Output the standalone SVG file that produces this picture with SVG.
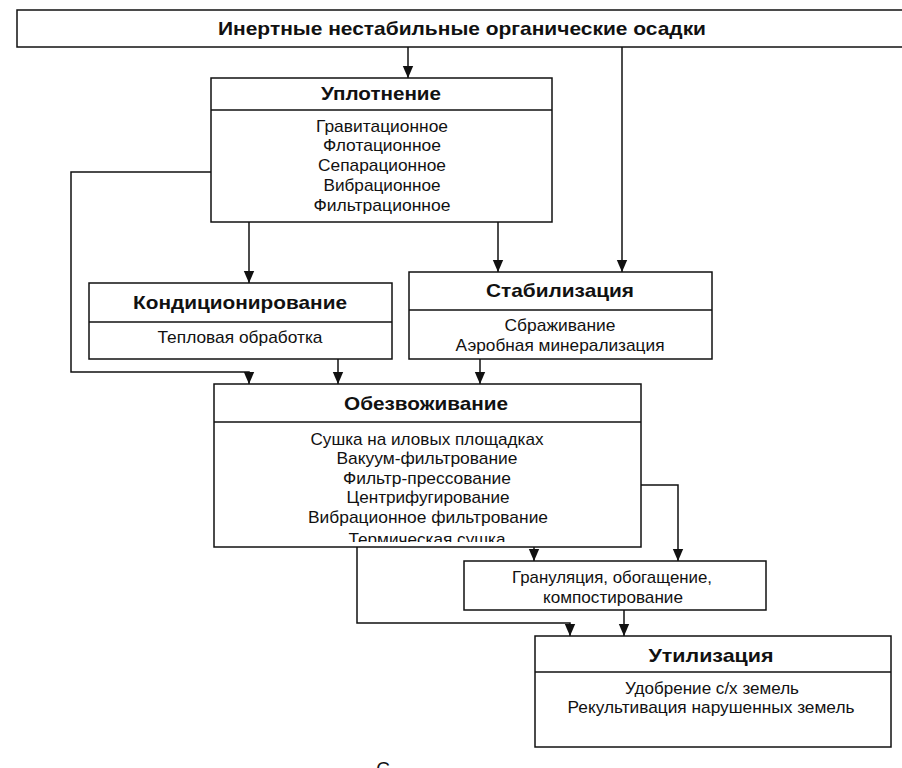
<svg xmlns="http://www.w3.org/2000/svg" width="902" height="768" viewBox="0 0 902 768">
<style>
.box{fill:#fff;stroke:#111;stroke-width:1.5}
.div{stroke:#111;stroke-width:1.3}
.t{font-family:"Liberation Sans",Arial,sans-serif;font-size:19px;font-weight:bold;fill:#111;text-anchor:middle}
.i{font-family:"Liberation Sans",Arial,sans-serif;font-size:17px;fill:#111;text-anchor:middle}
.c{fill:none;stroke:#111;stroke-width:1.5}
</style>
<defs>
<marker id="ar" viewBox="0 0 12 12" refX="12" refY="6" markerWidth="12" markerHeight="12" markerUnits="userSpaceOnUse" orient="auto">
<path d="M0,0.8 L12,6 L0,11.2 Z" fill="#111"/>
</marker>
<clipPath id="clipDew"><rect x="214" y="384" width="427" height="158"/></clipPath>
</defs>
<rect width="902" height="768" fill="#fff"/>

<g id="connectors">
<path class="c" d="M408,47 V78" marker-end="url(#ar)"/>
<path class="c" d="M622,47 V272" marker-end="url(#ar)"/>
<path class="c" d="M249,222 V283" marker-end="url(#ar)"/>
<path class="c" d="M498,222 V272" marker-end="url(#ar)"/>
<path class="c" d="M211,172 H71 V372 H249 V384" marker-end="url(#ar)"/>
<path class="c" d="M338,359 V384" marker-end="url(#ar)"/>
<path class="c" d="M480,359 V384" marker-end="url(#ar)"/>
<path class="c" d="M641,485 H678 V561" marker-end="url(#ar)"/>
<path class="c" d="M534,547 V561" marker-end="url(#ar)"/>
<path class="c" d="M357,547 V623 H570 V636" marker-end="url(#ar)"/>
<path class="c" d="M624,610 V636" marker-end="url(#ar)"/>
</g>

<g id="top">
<rect class="box" x="17" y="10" width="890" height="37"/>
<text class="t" x="462" y="35" textLength="488" lengthAdjust="spacingAndGlyphs">Инертные нестабильные органические осадки</text>
</g>

<g id="compaction">
<rect class="box" x="211" y="78" width="341" height="144"/>
<line class="div" x1="211" y1="110" x2="552" y2="110"/>
<text class="t" x="381" y="100" textLength="120" lengthAdjust="spacingAndGlyphs">Уплотнение</text>
<text class="i" x="382" y="132" textLength="132" lengthAdjust="spacingAndGlyphs">Гравитационное</text>
<text class="i" x="382" y="151" textLength="118" lengthAdjust="spacingAndGlyphs">Флотационное</text>
<text class="i" x="382" y="171" textLength="128" lengthAdjust="spacingAndGlyphs">Сепарационное</text>
<text class="i" x="382" y="191" textLength="117" lengthAdjust="spacingAndGlyphs">Вибрационное</text>
<text class="i" x="382" y="211" textLength="137" lengthAdjust="spacingAndGlyphs">Фильтрационное</text>
</g>

<g id="conditioning">
<rect class="box" x="89" y="283" width="303" height="76"/>
<line class="div" x1="89" y1="322" x2="392" y2="322"/>
<text class="t" x="240" y="309" textLength="214" lengthAdjust="spacingAndGlyphs">Кондиционирование</text>
<text class="i" x="240" y="343" textLength="165" lengthAdjust="spacingAndGlyphs">Тепловая обработка</text>
</g>

<g id="stabilization">
<rect class="box" x="409" y="272" width="303" height="87"/>
<line class="div" x1="409" y1="310" x2="712" y2="310"/>
<text class="t" x="560" y="297" textLength="148" lengthAdjust="spacingAndGlyphs">Стабилизация</text>
<text class="i" x="560" y="331" textLength="111" lengthAdjust="spacingAndGlyphs">Сбраживание</text>
<text class="i" x="560" y="351" textLength="209" lengthAdjust="spacingAndGlyphs">Аэробная минерализация</text>
</g>

<g id="dewatering">
<rect class="box" x="214" y="384" width="427" height="163"/>
<line class="div" x1="214" y1="422" x2="641" y2="422"/>
<text class="t" x="426" y="410" textLength="164" lengthAdjust="spacingAndGlyphs">Обезвоживание</text>
<text class="i" x="427" y="445" textLength="233" lengthAdjust="spacingAndGlyphs">Сушка на иловых площадках</text>
<text class="i" x="427" y="464" textLength="181" lengthAdjust="spacingAndGlyphs">Вакуум-фильтрование</text>
<text class="i" x="427" y="484" textLength="168" lengthAdjust="spacingAndGlyphs">Фильтр-прессование</text>
<text class="i" x="428" y="503" textLength="163" lengthAdjust="spacingAndGlyphs">Центрифугирование</text>
<text class="i" x="428" y="523" textLength="240" lengthAdjust="spacingAndGlyphs">Вибрационное фильтрование</text>
<text class="i" x="427" y="545" textLength="157" lengthAdjust="spacingAndGlyphs" clip-path="url(#clipDew)">Термическая сушка</text>
</g>

<g id="granulation">
<rect class="box" x="464" y="561" width="302" height="49"/>
<text class="i" x="612" y="583" textLength="200" lengthAdjust="spacingAndGlyphs">Грануляция, обогащение,</text>
<text class="i" x="613" y="603" textLength="140" lengthAdjust="spacingAndGlyphs">компостирование</text>
</g>

<g id="utilization">
<rect class="box" x="535" y="636" width="356" height="111"/>
<line class="div" x1="535" y1="672" x2="891" y2="672"/>
<text class="t" x="711" y="662" textLength="125" lengthAdjust="spacingAndGlyphs">Утилизация</text>
<text class="i" x="712" y="694" textLength="174" lengthAdjust="spacingAndGlyphs">Удобрение с/х земель</text>
<text class="i" x="711" y="713" textLength="287" lengthAdjust="spacingAndGlyphs">Рекультивация нарушенных земель</text>
</g>

<text class="i" x="383" y="775" style="font-size:19px">С</text>
</svg>
